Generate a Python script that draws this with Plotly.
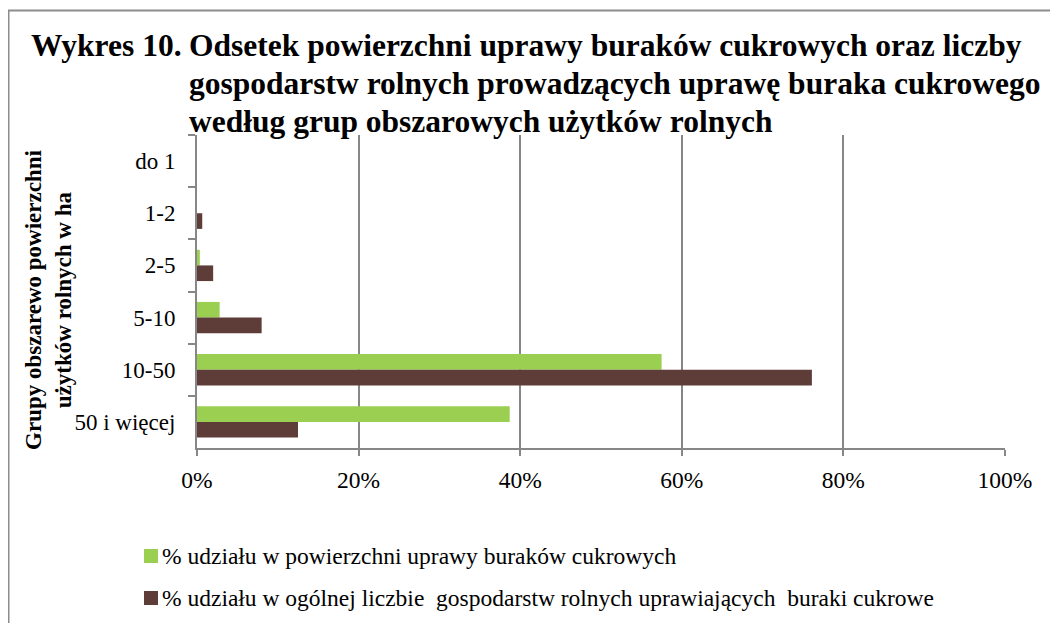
import plotly.graph_objects as go

categories = ["do 1", "1-2", "2-5", "5-10", "10-50", "50 i więcej"]
area_share = [0.0, 0.0, 0.35, 2.8, 57.5, 38.7]
farms_share = [0.0, 0.65, 2.0, 8.0, 76.1, 12.5]
x_ticks = [0, 20, 40, 60, 80, 100]
x_tick_labels = ["0%", "20%", "40%", "60%", "80%", "100%"]
series_names = [
    "% udziału w powierzchni uprawy buraków cukrowych",
    "% udziału w ogólnej liczbie  gospodarstw rolnych uprawiających  buraki cukrowe",
]
title_lines = [
    "Odsetek powierzchni uprawy buraków cukrowych oraz liczby",
    "gospodarstw rolnych prowadzących uprawę buraka cukrowego",
    "według grup obszarowych użytków rolnych",
]

OFF = 8  # page body margin
W, H = 1058, 623
L, R, T, B = 197 - OFF, 1005 - OFF, 135 - OFF, 448 - OFF
FONT = "Liberation Serif"
GREEN = "#9ACF52"
BROWN = "#5E3D38"
GRID = "#878787"
COLORS = [GREEN, BROWN]


def px_x(p):
    # p is page x in reference pixels
    return (p - OFF - L) / (R - L)


def px_y(p):
    return (B - (p - OFF)) / (B - T)


fig = go.Figure()
fig.add_trace(go.Bar(y=categories, x=area_share, orientation="h", name=series_names[0],
                     marker=dict(color=GREEN, line=dict(width=0))))
fig.add_trace(go.Bar(y=categories, x=farms_share, orientation="h", name=series_names[1],
                     marker=dict(color=BROWN, line=dict(width=0))))

fig.update_layout(
    width=W, height=H,
    margin=dict(l=L, r=W - R, t=T, b=H - B, autoexpand=False),
    paper_bgcolor="white", plot_bgcolor="white",
    barmode="group", bargap=0.4, bargroupgap=0,
    font=dict(family=FONT, size=20, color="black"),
    showlegend=False,
    xaxis=dict(range=[0, 100], tickvals=x_ticks, ticktext=x_tick_labels,
               showgrid=True, gridcolor=GRID, gridwidth=2,
               showline=True, linecolor=GRID, linewidth=2,
               ticks="outside", ticklen=6, tickcolor=GRID, tickwidth=2,
               ticklabelstandoff=4,
               tickfont=dict(family=FONT, size=23.5), zeroline=False, fixedrange=True),
    yaxis=dict(autorange="reversed", type="category",
               showline=True, linecolor=GRID, linewidth=2, showgrid=False,
               ticks="outside", ticklen=7, tickcolor=GRID, tickwidth=2,
               tickson="boundaries", ticklabelstandoff=15,
               tickfont=dict(family=FONT, size=23)),
)

# outer frame
fig.add_shape(type="rect", xref="paper", yref="paper",
              x0=px_x(8.5), x1=px_x(1080), y0=px_y(650), y1=px_y(10.5),
              line=dict(color="#8C8C8C", width=2), fillcolor="rgba(0,0,0,0)", layer="below")

# title
fig.add_annotation(xref="paper", yref="paper", x=px_x(29), y=px_y(45), xanchor="left", yanchor="middle",
                   text="<b>Wykres 10.</b>", showarrow=False, align="left",
                   font=dict(family=FONT, size=31.5, color="black"))
for i, line in enumerate(title_lines):
    fig.add_annotation(xref="paper", yref="paper", x=px_x(187), y=px_y(45 + 38 * i),
                       xanchor="left", yanchor="middle",
                       text="<b>" + line + "</b>", showarrow=False, align="left",
                       font=dict(family=FONT, size=31.5, color="black"))

# y axis title
fig.add_annotation(xref="paper", yref="paper", x=px_x(48), y=px_y(300), xanchor="center", yanchor="middle",
                   text="<b>Grupy obszarewo powierzchni</b><br><b>użytków rolnych w ha</b>",
                   textangle=-90, showarrow=False, align="center",
                   font=dict(family=FONT, size=23, color="black"))

# legend (manual, matching the reference layout)
for i, (name, col) in enumerate(zip(series_names, COLORS)):
    yc = 556 + 42 * i
    fig.add_shape(type="rect", xref="paper", yref="paper",
                  x0=px_x(144), x1=px_x(158), y0=px_y(yc + 7), y1=px_y(yc - 7),
                  line=dict(width=0), fillcolor=col)
    fig.add_annotation(xref="paper", yref="paper", x=px_x(160), y=px_y(yc), xanchor="left",
                       yanchor="middle", text=name, showarrow=False, align="left",
                       font=dict(family=FONT, size=23.5, color="black"))

fig.write_html("out.html")
